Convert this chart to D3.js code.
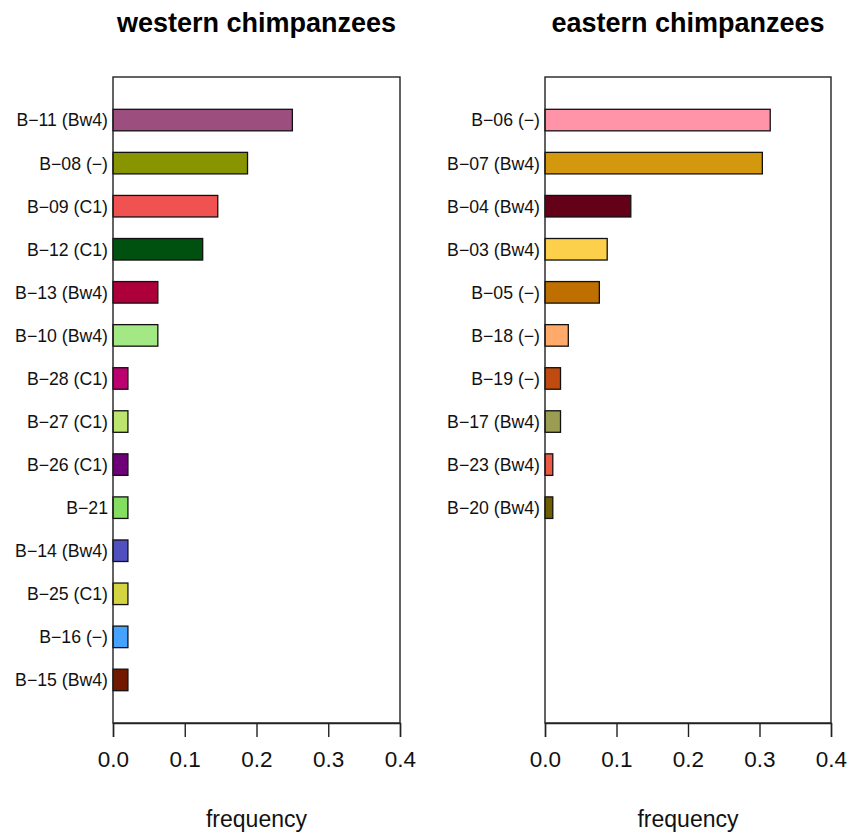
<!DOCTYPE html>
<html>
<head>
<meta charset="utf-8">
<script src="https://cdn.jsdelivr.net/npm/d3@7"></script>
<style>
  html, body { margin: 0; padding: 0; background: #fff; }
  svg { display: block; font-family: "Liberation Sans", Arial, Helvetica, sans-serif; }
</style>
</head>
<body>
<svg id="chart" width="860" height="837"></svg>
<script>
// ---- data ----
const westernLabels = ["B\u221211 (Bw4)", "B\u221208 (\u2212)", "B\u221209 (C1)", "B\u221212 (C1)", "B\u221213 (Bw4)", "B\u221210 (Bw4)", "B\u221228 (C1)", "B\u221227 (C1)", "B\u221226 (C1)", "B\u221221", "B\u221214 (Bw4)", "B\u221225 (C1)", "B\u221216 (\u2212)", "B\u221215 (Bw4)"];
const westernValues = [0.250, 0.1875, 0.146, 0.125, 0.0625, 0.0625, 0.0208, 0.0208, 0.0208, 0.0208, 0.0208, 0.0208, 0.0208, 0.0208];
const westernColors = ["#9C4F7E", "#889400", "#F05252", "#00500F", "#AD003A", "#A3E884", "#BC0070", "#BDE46E", "#6E0078", "#84DE62", "#5050BF", "#D4D443", "#46A2FF", "#701800"];

const easternLabels = ["B\u221206 (\u2212)", "B\u221207 (Bw4)", "B\u221204 (Bw4)", "B\u221203 (Bw4)", "B\u221205 (\u2212)", "B\u221218 (\u2212)", "B\u221219 (\u2212)", "B\u221217 (Bw4)", "B\u221223 (Bw4)", "B\u221220 (Bw4)", "", "", "", ""];
const easternValues = [0.315, 0.304, 0.120, 0.087, 0.076, 0.0326, 0.0217, 0.0217, 0.0109, 0.0109, 0, 0, 0, 0];
const easternColors = ["#FF94A8", "#D4980F", "#640018", "#FCD04A", "#BF6F00", "#FFAA6A", "#C04A10", "#9A9D52", "#EB5A44", "#6E5E00", "#888888", "#888888", "#888888", "#888888"];

const xTicks = [0.0, 0.1, 0.2, 0.3, 0.4];
const titles = ["western chimpanzees", "eastern chimpanzees"];
const xLabel = "frequency";

// ---- layout ----
const svg = d3.select("#chart");
const plotTop = 77, plotBottom = 723;
const panels = [
  { left: 113, right: 400, title: titles[0], labels: westernLabels, values: westernValues, colors: westernColors },
  { left: 545, right: 831, title: titles[1], labels: easternLabels, values: easternValues, colors: easternColors }
];

panels.forEach(p => {
  const g = svg.append("g");
  const x = d3.scaleLinear().domain([0, 0.4]).range([p.left, p.right]);
  const idx = d3.range(p.values.length);
  const y = d3.scaleBand().domain(idx).range([plotTop, plotBottom]).paddingInner(0.5).paddingOuter(0.75);

  // bars
  g.selectAll("rect.bar").data(idx).join("rect")
    .attr("class", "bar")
    .attr("x", x(0))
    .attr("y", i => y(i))
    .attr("width", i => x(p.values[i]) - x(0))
    .attr("height", y.bandwidth())
    .attr("fill", i => p.colors[i])
    .attr("stroke", "#111")
    .attr("stroke-width", 1.3);

  // category labels
  g.selectAll("text.cat").data(idx).join("text")
    .attr("class", "cat")
    .attr("x", p.left - 5)
    .attr("y", i => y(i) + y.bandwidth() / 2)
    .attr("dy", "0.36em")
    .attr("text-anchor", "end")
    .attr("font-size", 17.7)
    .attr("fill", "#111")
    .text(i => p.labels[i]);

  // box
  g.append("rect")
    .attr("x", p.left).attr("y", plotTop)
    .attr("width", p.right - p.left).attr("height", plotBottom - plotTop)
    .attr("fill", "none").attr("stroke", "#222").attr("stroke-width", 1.4);

  // x axis
  const axis = d3.axisBottom(x).tickValues(xTicks).tickFormat(d3.format(".1f")).tickSize(14).tickPadding(14);
  const ag = g.append("g").attr("transform", `translate(0,${plotBottom})`).call(axis);
  ag.select(".domain").attr("stroke", "#222").attr("stroke-width", 1.4);
  ag.selectAll(".tick line").attr("stroke", "#222").attr("stroke-width", 1.4);
  ag.selectAll(".tick text").attr("font-size", 22.5).attr("fill", "#111")
    .attr("font-family", "'Liberation Sans', Arial, Helvetica, sans-serif");

  // axis title
  g.append("text")
    .attr("x", (p.left + p.right) / 2).attr("y", 827)
    .attr("text-anchor", "middle").attr("font-size", 23).attr("fill", "#111")
    .text(xLabel);

  // panel title
  g.append("text")
    .attr("x", (p.left + p.right) / 2).attr("y", 32)
    .attr("text-anchor", "middle").attr("font-size", 27).attr("font-weight", "bold").attr("fill", "#000")
    .text(p.title);
});
</script>
</body>
</html>
